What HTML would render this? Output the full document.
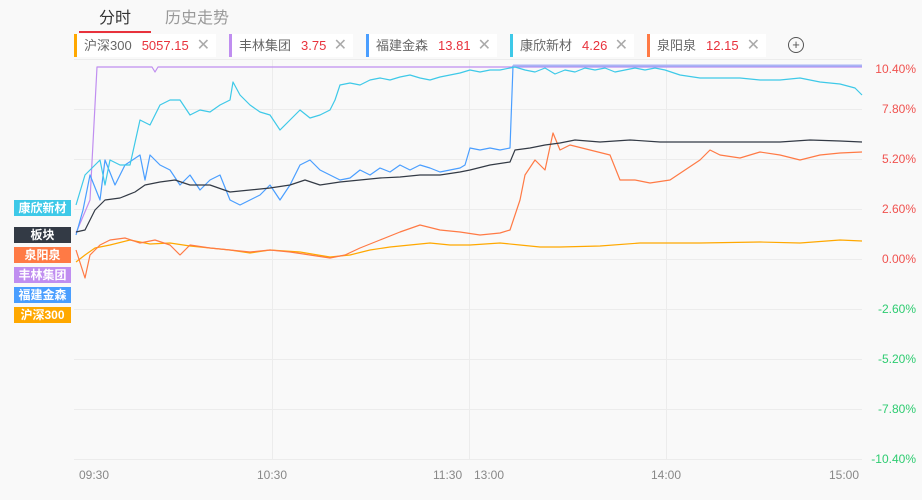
<!DOCTYPE html>
<html><head><meta charset="utf-8"><style>
body{margin:0;width:922px;height:500px;background:#f9f9f9;font-family:"Liberation Sans","Noto Sans CJK SC",sans-serif;overflow:hidden;position:relative}
.tab{position:absolute;top:4px;font-size:16px}
.chip{position:absolute;top:34px;height:23px;background:#fff;font-size:13px;line-height:23px;color:#666;box-sizing:border-box;padding-left:7px}
.chip b{font-weight:normal;color:#e8323c;margin-left:10px}
.chip i{position:absolute;right:6px;top:0;font-style:normal;color:#aaa;font-size:16px}
.lab{position:absolute;left:14px;width:57px;height:16px;color:#fff;font-size:12px;line-height:16px;text-align:center;font-weight:bold}
.yl{position:absolute;right:6px;font-size:12px}
.xl{position:absolute;top:468px;font-size:12px;color:#888}
</style></head><body>
<div class="tab" style="left:99px;color:#333">分时</div>
<div style="position:absolute;left:79px;top:31px;width:72px;height:2px;background:#e8323c"></div>
<div class="tab" style="left:165px;color:#999">历史走势</div>
<div class="chip" style="left:74px;width:142px;border-left:3px solid #ffa800">沪深300<b>5057.15</b><i>✕</i></div>
<div class="chip" style="left:229px;width:124px;border-left:3px solid #c08ef0">丰林集团<b>3.75</b><i>✕</i></div>
<div class="chip" style="left:366px;width:131px;border-left:3px solid #4a9eff">福建金森<b>13.81</b><i>✕</i></div>
<div class="chip" style="left:510px;width:124px;border-left:3px solid #3ec9e8">康欣新材<b>4.26</b><i>✕</i></div>
<div class="chip" style="left:647px;width:119px;border-left:3px solid #ff7a45">泉阳泉<b>12.15</b><i>✕</i></div>
<div style="position:absolute;left:788px;top:37px;width:14px;height:14px;border:1px solid #555;border-radius:50%;text-align:center;line-height:14px;font-size:13px;color:#555">+</div>
<svg width="922" height="500" style="position:absolute;left:0;top:0">
<g stroke="#ececec" stroke-width="1">
<line x1="74" y1="59.5" x2="862" y2="59.5"/><line x1="74" y1="109.5" x2="862" y2="109.5"/><line x1="74" y1="159.5" x2="862" y2="159.5"/><line x1="74" y1="209.5" x2="862" y2="209.5"/><line x1="74" y1="259.5" x2="862" y2="259.5"/><line x1="74" y1="309.5" x2="862" y2="309.5"/><line x1="74" y1="359.5" x2="862" y2="359.5"/><line x1="74" y1="409.5" x2="862" y2="409.5"/><line x1="74" y1="459.5" x2="862" y2="459.5"/>
<line x1="272.5" y1="59" x2="272.5" y2="460"/><line x1="469.5" y1="59" x2="469.5" y2="460"/><line x1="666.5" y1="59" x2="666.5" y2="460"/>
</g>
<g fill="none" stroke-width="1.2" stroke-linejoin="round">
<polyline stroke="#ffa800" points="76,262 85,255 95,248 110,245 130,240 150,244 170,243 190,246 210,248 230,250 250,253 270,250 300,252 330,257 350,255 370,250 390,247 410,245 430,243 450,245 470,245 500,243 520,245 540,247 560,247 600,246 640,243 700,243 760,242 800,243 840,240 862,241"/>
<polyline stroke="#ff7a45" points="76,250 85,278 90,255 100,245 110,240 125,238 140,243 155,240 170,245 180,255 190,245 210,248 230,250 250,252 270,250 290,252 310,255 330,258 345,255 360,248 380,240 400,232 420,225 440,230 460,232 480,235 500,233 510,230 520,200 525,175 535,160 545,170 553,133 560,150 570,145 590,150 610,155 620,180 635,180 650,183 670,180 685,170 700,160 710,150 720,155 740,158 760,152 780,155 800,160 820,155 840,153 862,152"/>
<polyline stroke="#c08ef0" points="76,233 90,200 97,67 152,67 155,72 158,67 862,67"/>
<polyline stroke="#4a9eff" points="76,235 83,210 90,175 100,200 105,160 115,185 125,165 140,155 145,180 150,155 160,165 170,170 180,185 190,175 200,190 210,180 220,175 230,200 240,205 250,200 260,195 270,185 280,200 290,185 300,165 310,160 320,170 330,175 340,180 350,178 360,170 370,175 380,168 390,172 400,165 410,170 420,165 430,168 440,172 450,170 460,168 465,165 470,148 480,150 490,148 500,150 510,148 513,66 862,66"/>
<polyline stroke="#aab4f5" stroke-width="2" points="513,65.5 862,65.5"/>
<polyline stroke="#3ec9e8" points="76,205 85,175 95,165 100,160 105,185 110,160 120,165 130,165 140,120 150,125 160,105 170,100 180,100 190,115 200,110 210,112 220,105 230,100 233,82 240,95 250,105 260,112 270,115 280,130 290,120 300,110 310,118 320,115 330,110 335,100 340,85 350,83 360,85 370,80 380,78 390,80 400,77 410,75 420,78 430,80 440,77 450,75 460,73 470,70 480,72 490,70 500,70 510,68 515,67 525,70 535,72 545,68 555,74 565,70 575,72 585,68 595,70 605,68 615,72 625,70 635,68 645,70 655,68 665,70 680,75 700,78 720,78 740,78 760,80 780,80 800,78 820,82 840,84 855,88 862,95"/>
<polyline stroke="#333a45" points="76,232 85,230 95,210 105,200 120,198 135,192 145,185 160,182 175,180 190,185 210,185 230,192 250,190 270,188 290,185 305,180 320,185 340,182 360,180 380,178 400,177 420,175 440,175 460,172 470,170 490,165 510,162 515,150 530,148 545,145 560,143 575,140 600,142 630,140 660,142 700,142 740,142 780,142 810,140 840,141 862,142"/>
</g>
</svg>
<div class="lab" style="top:200px;background:#3ec9e8">康欣新材</div>
<div class="lab" style="top:227px;background:#333a45">板块</div>
<div class="lab" style="top:247px;background:#ff7a45">泉阳泉</div>
<div class="lab" style="top:267px;background:#c08ef0">丰林集团</div>
<div class="lab" style="top:287px;background:#4a9eff">福建金森</div>
<div class="lab" style="top:307px;background:#ffa800">沪深300</div>
<div class="yl" style="top:62px;color:#f0524f">10.40%</div>
<div class="yl" style="top:102px;color:#f0524f">7.80%</div>
<div class="yl" style="top:152px;color:#f0524f">5.20%</div>
<div class="yl" style="top:202px;color:#f0524f">2.60%</div>
<div class="yl" style="top:252px;color:#f0524f">0.00%</div>
<div class="yl" style="top:302px;color:#2ecc71">-2.60%</div>
<div class="yl" style="top:352px;color:#2ecc71">-5.20%</div>
<div class="yl" style="top:402px;color:#2ecc71">-7.80%</div>
<div class="yl" style="top:452px;color:#2ecc71">-10.40%</div>
<div class="xl" style="left:79px">09:30</div>
<div class="xl" style="left:257px">10:30</div>
<div class="xl" style="left:433px">11:30</div>
<div class="xl" style="left:474px">13:00</div>
<div class="xl" style="left:651px">14:00</div>
<div class="xl" style="left:829px">15:00</div>
</body></html>
